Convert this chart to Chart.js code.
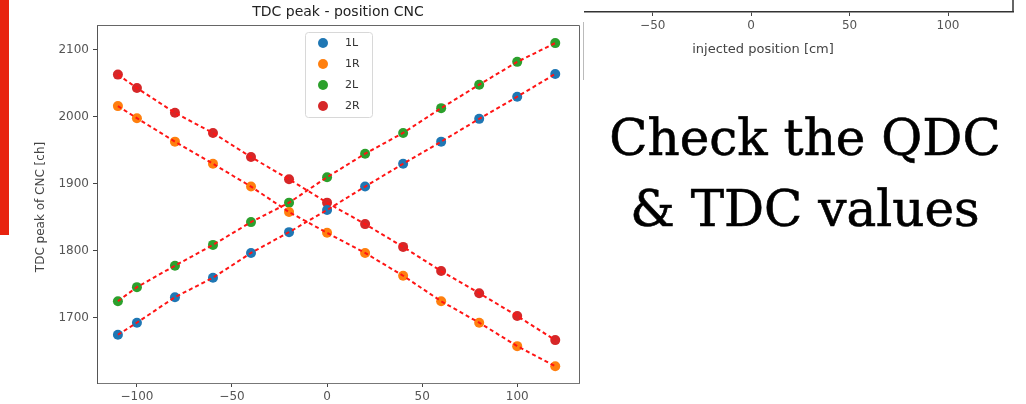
<!DOCTYPE html>
<html>
<head>
<meta charset="utf-8">
<script src="https://cdn.jsdelivr.net/npm/chart.js@4.4.1/dist/chart.umd.min.js"></script>
<style>
  html, body { margin: 0; padding: 0; width: 1026px; height: 404px; overflow: hidden; background: #fff; }
  #main { position: absolute; left: 0; top: 0; z-index: 2; background: #fff; }
  #upper { position: absolute; left: 500px; top: -100px; z-index: 1; }
  #stripe { position: absolute; left: 0; top: 0; width: 9px; height: 235px; background: #e8230f; z-index: 3; }
  #edge { position: absolute; left: 583px; top: 22px; width: 1px; height: 58px; background: #bbb; z-index: 3; }
  #note {
    position: absolute; left: 590px; top: 103px; width: 430px; z-index: 3;
    font-family: "DejaVu Serif", serif; font-size: 50px; line-height: 71px;
    text-align: center; color: #000; -webkit-text-stroke: 0.6px #000;
  }
</style>
</head>
<body>
<div id="stripe"></div>
<canvas id="upper" width="526" height="180"></canvas>
<canvas id="main" width="584" height="440"></canvas>
<div id="edge"></div>
<div id="note">Check the QDC<br>&amp; TDC values</div>

<script>
// injected positions (cm) and TDC peak values (ch) per channel
const positions = [-110, -100, -80, -60, -40, -20, 0, 20, 40, 60, 80, 100, 120];
const peak1L = [1675, 1693, 1731, 1760, 1797, 1828, 1861, 1896, 1930, 1963, 1997, 2030, 2064];
const peak1R = [2016, 1998, 1963, 1930, 1896, 1858, 1827, 1797, 1763, 1725, 1693, 1658, 1628];
const peak2L = [1725, 1746, 1778, 1809, 1843, 1872, 1910, 1945, 1976, 2013, 2048, 2082, 2110];
const peak2R = [2063, 2043, 2006, 1976, 1940, 1907, 1872, 1840, 1806, 1770, 1737, 1703, 1667];

const seriesNames = ['1L', '1R', '2L', '2R'];
const seriesColors = ['#1f77b4', '#ff7f0e', '#2ca02c', '#d62728'];

const xTicks = [-100, -50, 0, 50, 100];
const yTicks = [1700, 1800, 1900, 2000, 2100];
const upperXTicks = [-50, 0, 50, 100];

const tickFont = { family: 'DejaVu Sans', size: 12 };
const plain = v => String(v).replace('-', '\u2212');

function toPoints(values) {
  return positions.map((x, i) => ({ x: x, y: values[i] }));
}

const allSeries = [peak1L, peak1R, peak2L, peak2R];

// dashed red fit lines go on top of the markers (lower order = drawn later)
const datasets = [];
allSeries.forEach((values, i) => {
  datasets.push({
    label: seriesNames[i],
    data: toPoints(values),
    backgroundColor: seriesColors[i],
    borderColor: seriesColors[i],
    pointRadius: 5,
    pointBorderWidth: 0,
    order: 1
  });
});
allSeries.forEach((values, i) => {
  datasets.push({
    label: 'fit ' + seriesNames[i],
    data: toPoints(values),
    showLine: true,
    borderColor: '#ff1414',
    borderWidth: 2,
    borderDash: [4, 3],
    pointRadius: 0,
    order: 0
  });
});

// title, y label, top/right spines and inner legend
const decorations = {
  id: 'decorations',
  afterDatasetsDraw(chart) {
    const ctx = chart.ctx;
    const a = chart.chartArea;
    ctx.save();

    ctx.strokeStyle = '#666';
    ctx.lineWidth = 1;
    ctx.beginPath();
    ctx.moveTo(a.left, a.top + 0.5);
    ctx.lineTo(a.right + 0.5, a.top + 0.5);
    ctx.lineTo(a.right + 0.5, a.bottom);
    ctx.stroke();

    ctx.fillStyle = '#222';
    ctx.font = '14px "DejaVu Sans"';
    ctx.textAlign = 'center';
    ctx.textBaseline = 'middle';
    ctx.fillText('TDC peak - position CNC', (a.left + a.right) / 2, 12);

    ctx.fillStyle = '#444';
    ctx.font = '12px "DejaVu Sans"';
    ctx.translate(41, 207);
    ctx.rotate(-Math.PI / 2);
    ctx.fillText('TDC peak of CNC [ch]', 0, 0);
    ctx.setTransform(1, 0, 0, 1, 0, 0);

    // legend
    ctx.fillStyle = 'rgba(255,255,255,0.85)';
    ctx.strokeStyle = '#d8d8d8';
    ctx.beginPath();
    ctx.roundRect(305.5, 32.5, 67, 85, 3);
    ctx.fill();
    ctx.stroke();
    ctx.font = '11px "DejaVu Sans"';
    ctx.textAlign = 'left';
    seriesNames.forEach((name, i) => {
      const y = 43 + i * 21;
      ctx.fillStyle = seriesColors[i];
      ctx.beginPath();
      ctx.arc(323, y, 5, 0, Math.PI * 2);
      ctx.fill();
      ctx.fillStyle = '#333';
      ctx.fillText(name, 345, y);
    });
    ctx.restore();
  }
};

new Chart(document.getElementById('main'), {
  type: 'scatter',
  data: { datasets: datasets },
  options: {
    responsive: false,
    animation: false,
    devicePixelRatio: 1,
    layout: { padding: { left: 0, top: 25, right: 4, bottom: 0 } },
    plugins: { legend: { display: false }, tooltip: { enabled: false } },
    scales: {
      x: {
        type: 'linear',
        min: -121,
        max: 132.5,
        afterBuildTicks: s => { s.ticks = xTicks.map(v => ({ value: v })); },
        afterFit: s => { s.height = 57; },
        grid: { drawOnChartArea: false, tickLength: 4, color: '#444', tickColor: '#444' },
        border: { color: '#777', width: 1 },
        ticks: { color: '#555', font: tickFont, padding: 3, callback: plain }
      },
      y: {
        type: 'linear',
        min: 1603,
        max: 2137,
        afterBuildTicks: s => { s.ticks = yTicks.map(v => ({ value: v })); },
        afterFit: s => { s.width = 97; },
        grid: { drawOnChartArea: false, tickLength: 4, color: '#444', tickColor: '#444' },
        border: { color: '#555', width: 1 },
        ticks: { color: '#555', font: tickFont, padding: 4, callback: plain }
      }
    }
  },
  plugins: [decorations]
});

// the bottom edge of the chart above, mostly off screen
const upperDecor = {
  id: 'upperDecor',
  afterDraw(chart) {
    const ctx = chart.ctx;
    const a = chart.chartArea;
    ctx.save();
    ctx.strokeStyle = '#333';
    ctx.lineWidth = 1.5;
    ctx.beginPath();
    ctx.moveTo(a.right, a.top);
    ctx.lineTo(a.right, a.bottom);
    ctx.stroke();
    ctx.fillStyle = '#444';
    ctx.font = '13px "DejaVu Sans"';
    ctx.textAlign = 'center';
    ctx.textBaseline = 'middle';
    ctx.fillText('injected position [cm]', (a.left + a.right) / 2, a.bottom + 38);
    ctx.restore();
  }
};

new Chart(document.getElementById('upper'), {
  type: 'scatter',
  data: { datasets: [] },
  options: {
    responsive: false,
    animation: false,
    devicePixelRatio: 1,
    layout: { padding: { left: 13, top: 0, right: 13, bottom: 0 } },
    plugins: { legend: { display: false }, tooltip: { enabled: false } },
    scales: {
      x: {
        type: 'linear',
        min: -121,
        max: 133,
        afterBuildTicks: s => { s.ticks = upperXTicks.map(v => ({ value: v })); },
        afterFit: s => { s.height = 68; },
        grid: { drawOnChartArea: false, tickLength: 4, color: '#444', tickColor: '#444' },
        border: { color: '#333', width: 1.5 },
        ticks: { color: '#555', font: tickFont, padding: 3, callback: plain }
      },
      y: { display: false, min: 0, max: 1 }
    }
  },
  plugins: [upperDecor]
});
</script>
</body>
</html>
